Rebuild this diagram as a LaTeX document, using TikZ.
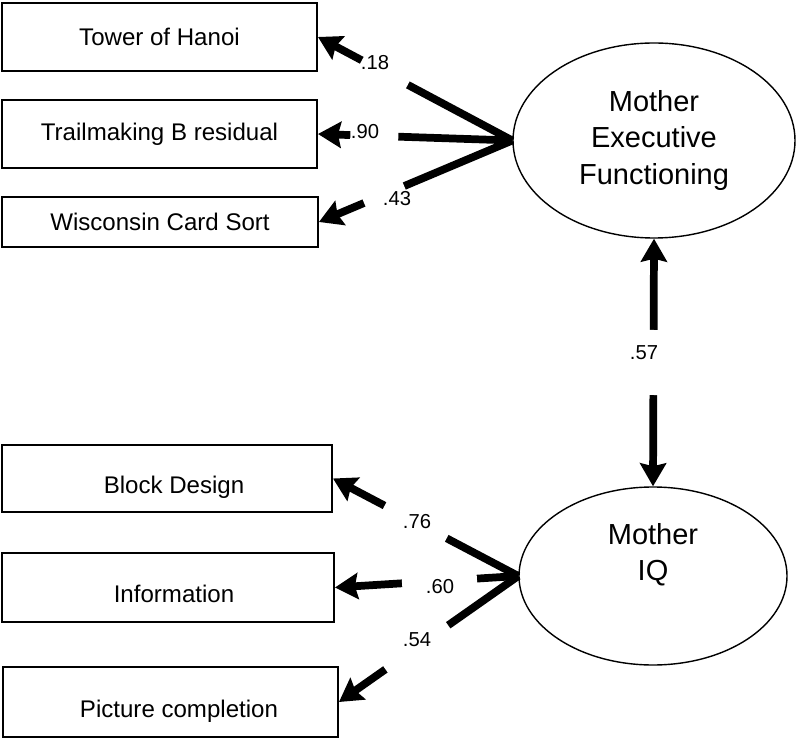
\documentclass[tikz,border=0pt]{standalone}
\usepackage{fontspec}
\setmainfont{Liberation Sans}
\usepackage{tikz}
\usetikzlibrary{shapes.geometric, arrows.meta}

\begin{document}
\begin{tikzpicture}[>={Stealth[length=0.46cm, width=0.52cm, inset=0.06cm]}]
\tikzset{
  obs/.style={draw, line width=1.1pt, minimum width=#1, inner sep=0pt, font=\fontsize{13.7}{16}\selectfont},
  lat/.style={draw, ellipse, line width=0.8pt, inner sep=0pt, align=center, font=\fontsize{16.5}{20.5}\selectfont},
  load/.style={->, line width=4.4pt},
  gap/.style={fill=white, sloped, inner sep=0pt, minimum height=0.5cm, minimum width=#1},
  coef/.style={font=\fontsize{11.5}{13}\selectfont},
  lowtext/.style={text height=0.7cm, text depth=0.1cm, execute at begin node=\hspace*{#1}}
}
\useasboundingbox (0,0) rectangle (16,-14.82);

%--- Executive functioning block ---
\node[obs=6.3cm, minimum height=1.36cm] (toh) at (3.19,-0.74) {Tower of Hanoi};
\node[obs=6.3cm, minimum height=1.36cm] (tmb) at (3.19,-2.68) {Trailmaking B residual};
\node[obs=6.32cm, minimum height=1.0cm] (wcs) at (3.2,-4.44) {Wisconsin Card Sort};
\node[lat, minimum width=5.64cm, minimum height=3.9cm] (mef) at (13.08,-2.81) {Mother\\Executive\\Functioning};

%--- IQ block ---
\node[obs=6.6cm, minimum height=1.34cm, lowtext=0.28cm] (bld) at (3.34,-9.57) {Block Design};
\node[obs=6.64cm, minimum height=1.38cm, lowtext=0.24cm] (inf) at (3.36,-11.75) {Information};
\node[obs=6.7cm, minimum height=1.4cm, lowtext=0.34cm] (pcc) at (3.41,-14.04) {Picture completion};
\node[lat, minimum width=5.36cm, minimum height=3.56cm, text depth=0.95cm] (miq) at (13.06,-11.52) {Mother\\IQ};

% Loadings (lines broken where the coefficient sits)
\draw[load] (mef.west) -- node[gap=1.04cm, pos=0.656] (g18) {} (toh.east);
\draw[load] (mef.west) -- node[gap=0.96cm, pos=0.71] (g90) {} (tmb.east);
\draw[load] (mef.west) -- node[gap=0.87cm, pos=0.663] (g43) {} (wcs.east);
\draw[load] (miq.west) -- node[gap=1.4cm, pos=0.554] (g76) {} (bld.east);
\draw[load] (miq.west) -- node[gap=1.5cm, pos=0.43] (g60) {} (inf.east);
\draw[load] (miq.west) -- node[gap=1.53cm, pos=0.566] (g54) {} (pcc.east);

% Correlation
\draw[load, <->] (mef.south) -- node[gap=1.3cm, pos=0.5] (g57) {} (miq.north);

% Coefficients
\node[coef] (c18) at (7.5,-1.26) {.18};
\node[coef] (c90) at (7.3,-2.64) {.90};
\node[coef] (c43) at (7.94,-3.98) {.43};
\node[coef] (c57) at (12.88,-7.06) {.57};
\node[coef] (c76) at (8.34,-10.44) {.76};
\node[coef] (c60) at (8.8,-11.74) {.60};
\node[coef] (c54) at (8.34,-12.8) {.54};
\end{tikzpicture}
\end{document}
